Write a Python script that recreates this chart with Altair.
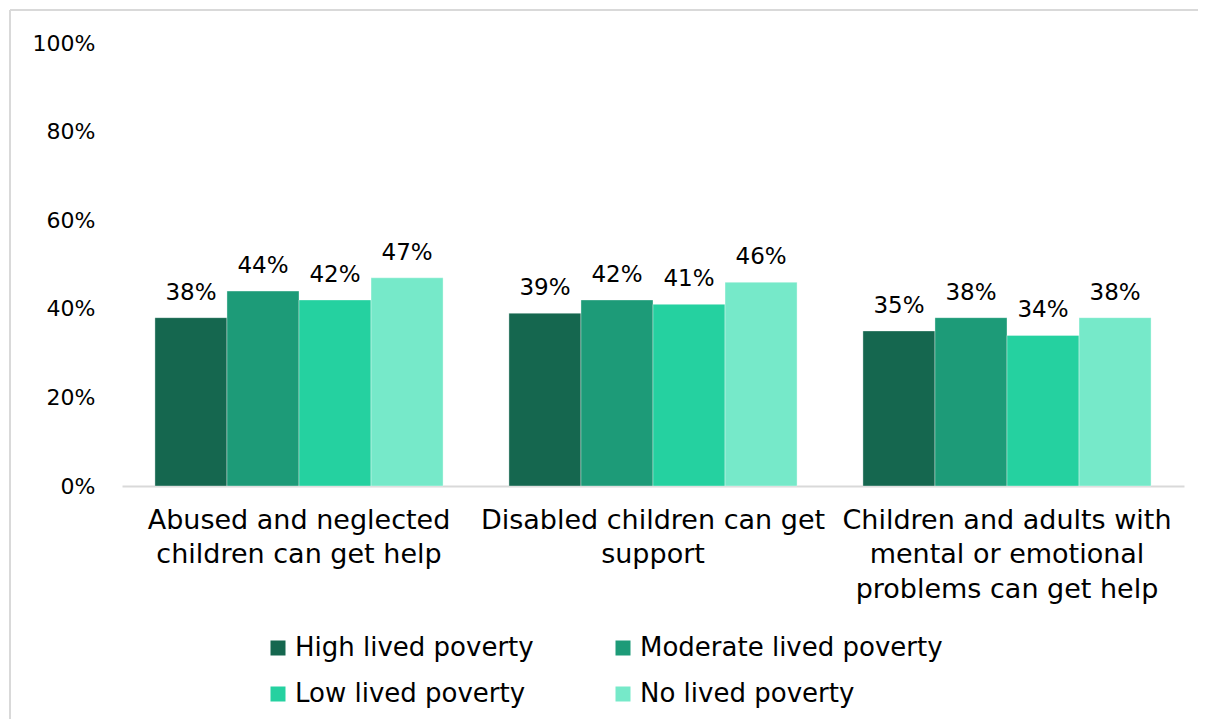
import altair as alt
import pandas as pd

categories = [
    "Abused and neglected children can get help",
    "Disabled children can get support",
    "Children and adults with mental or emotional problems can get help",
]
category_lines = [
    ["Abused and neglected", "children can get help"],
    ["Disabled children can get", "support"],
    ["Children and adults with", "mental or emotional", "problems can get help"],
]
series = ["High lived poverty", "Moderate lived poverty", "Low lived poverty", "No lived poverty"]
colors = ["#15674F", "#1D9B78", "#25D1A0", "#76E9C9"]

high = [38, 39, 35]
moderate = [44, 42, 38]
low = [42, 41, 34]
no = [47, 46, 38]

values_by_series = [high, moderate, low, no]
rows = []
for s, vals in zip(series, values_by_series):
    for c, v in zip(categories, vals):
        rows.append({"category": c, "series": s, "value": v / 100.0, "label": f"{v}%"})
df = pd.DataFrame(rows)

# label expression for multi-line category labels
expr = "''"
for c, lines in reversed(list(zip(categories, category_lines))):
    arr = "[" + ",".join("'" + l + "'" for l in lines) + "]"
    expr = f"datum.value == '{c}' ? {arr} : ({expr})"

FONT = "DejaVu Sans"
W, H = 1062, 443

x = alt.X(
    "category:N",
    sort=categories,
    scale=alt.Scale(paddingInner=0.186, paddingOuter=0.093),
    axis=alt.Axis(
        title=None,
        labelAngle=0,
        labelExpr=expr,
        labelFontSize=27,
        labelColor="#000000",
        labelLineHeight=34.5,
        labelPadding=21,
        labelBaseline="top",
        ticks=False,
        domainColor="#d9d9d9",
        domainWidth=2,
        labelLimit=400,
    ),
)
xo = alt.XOffset("series:N", sort=series, scale=alt.Scale(paddingInner=0, paddingOuter=0))

bars = alt.Chart(df).mark_bar(stroke="#ffffff", strokeWidth=0.6, strokeOpacity=0.6).encode(
    x=x,
    xOffset=xo,
    y=alt.Y(
        "value:Q",
        scale=alt.Scale(domain=[0, 1]),
        axis=alt.Axis(
            title=None,
            values=[0, 0.2, 0.4, 0.6, 0.8, 1.0],
            format=".0%",
            labelFontSize=22,
            labelColor="#000000",
            labelPadding=27,
            ticks=False,
            domain=False,
            grid=False,
        ),
    ),
    color=alt.Color(
        "series:N",
        sort=series,
        scale=alt.Scale(domain=series, range=colors),
        legend=alt.Legend(
            title=None,
            orient="none",
            direction="horizontal",
            legendX=143,
            legendY=592,
            columns=2,
            columnPadding=76,
            rowPadding=20,
            symbolType="square",
            symbolSize=225,
            symbolStrokeWidth=0,
            labelFontSize=26,
            labelColor="#000000",
            labelOffset=4,
            labelLimit=400,
            padding=0,
        ),
    ),
)

texts = alt.Chart(df).mark_text(fontSize=23, baseline="alphabetic", dy=-18, color="#000000").encode(
    x=alt.X("category:N", sort=categories),
    xOffset=xo,
    y="value:Q",
    text="label:N",
)

border_df = pd.DataFrame({"a": [0]})
top_line = alt.Chart(border_df).mark_rule(color="#d9d9d9", strokeWidth=2).encode(
    x=alt.value(-112), x2=alt.value(1200), y=alt.value(-33)
)
left_line = alt.Chart(border_df).mark_rule(color="#d9d9d9", strokeWidth=2).encode(
    x=alt.value(-112), y=alt.value(-33), y2=alt.value(900)
)

chart = (
    alt.layer(bars, texts, top_line, left_line)
    .properties(
        width=W,
        height=H,
        autosize=alt.AutoSizeParams(type="none"),
        padding={"left": 114, "top": 35, "right": 14, "bottom": 233},
        background="#ffffff",
        view=alt.ViewBackground(stroke="transparent", strokeWidth=0),
    )
    .configure_view(stroke="transparent", strokeWidth=0)
    .configure(font=FONT)
)

chart.save("out.html", embed_options={"renderer": "svg", "actions": False})
